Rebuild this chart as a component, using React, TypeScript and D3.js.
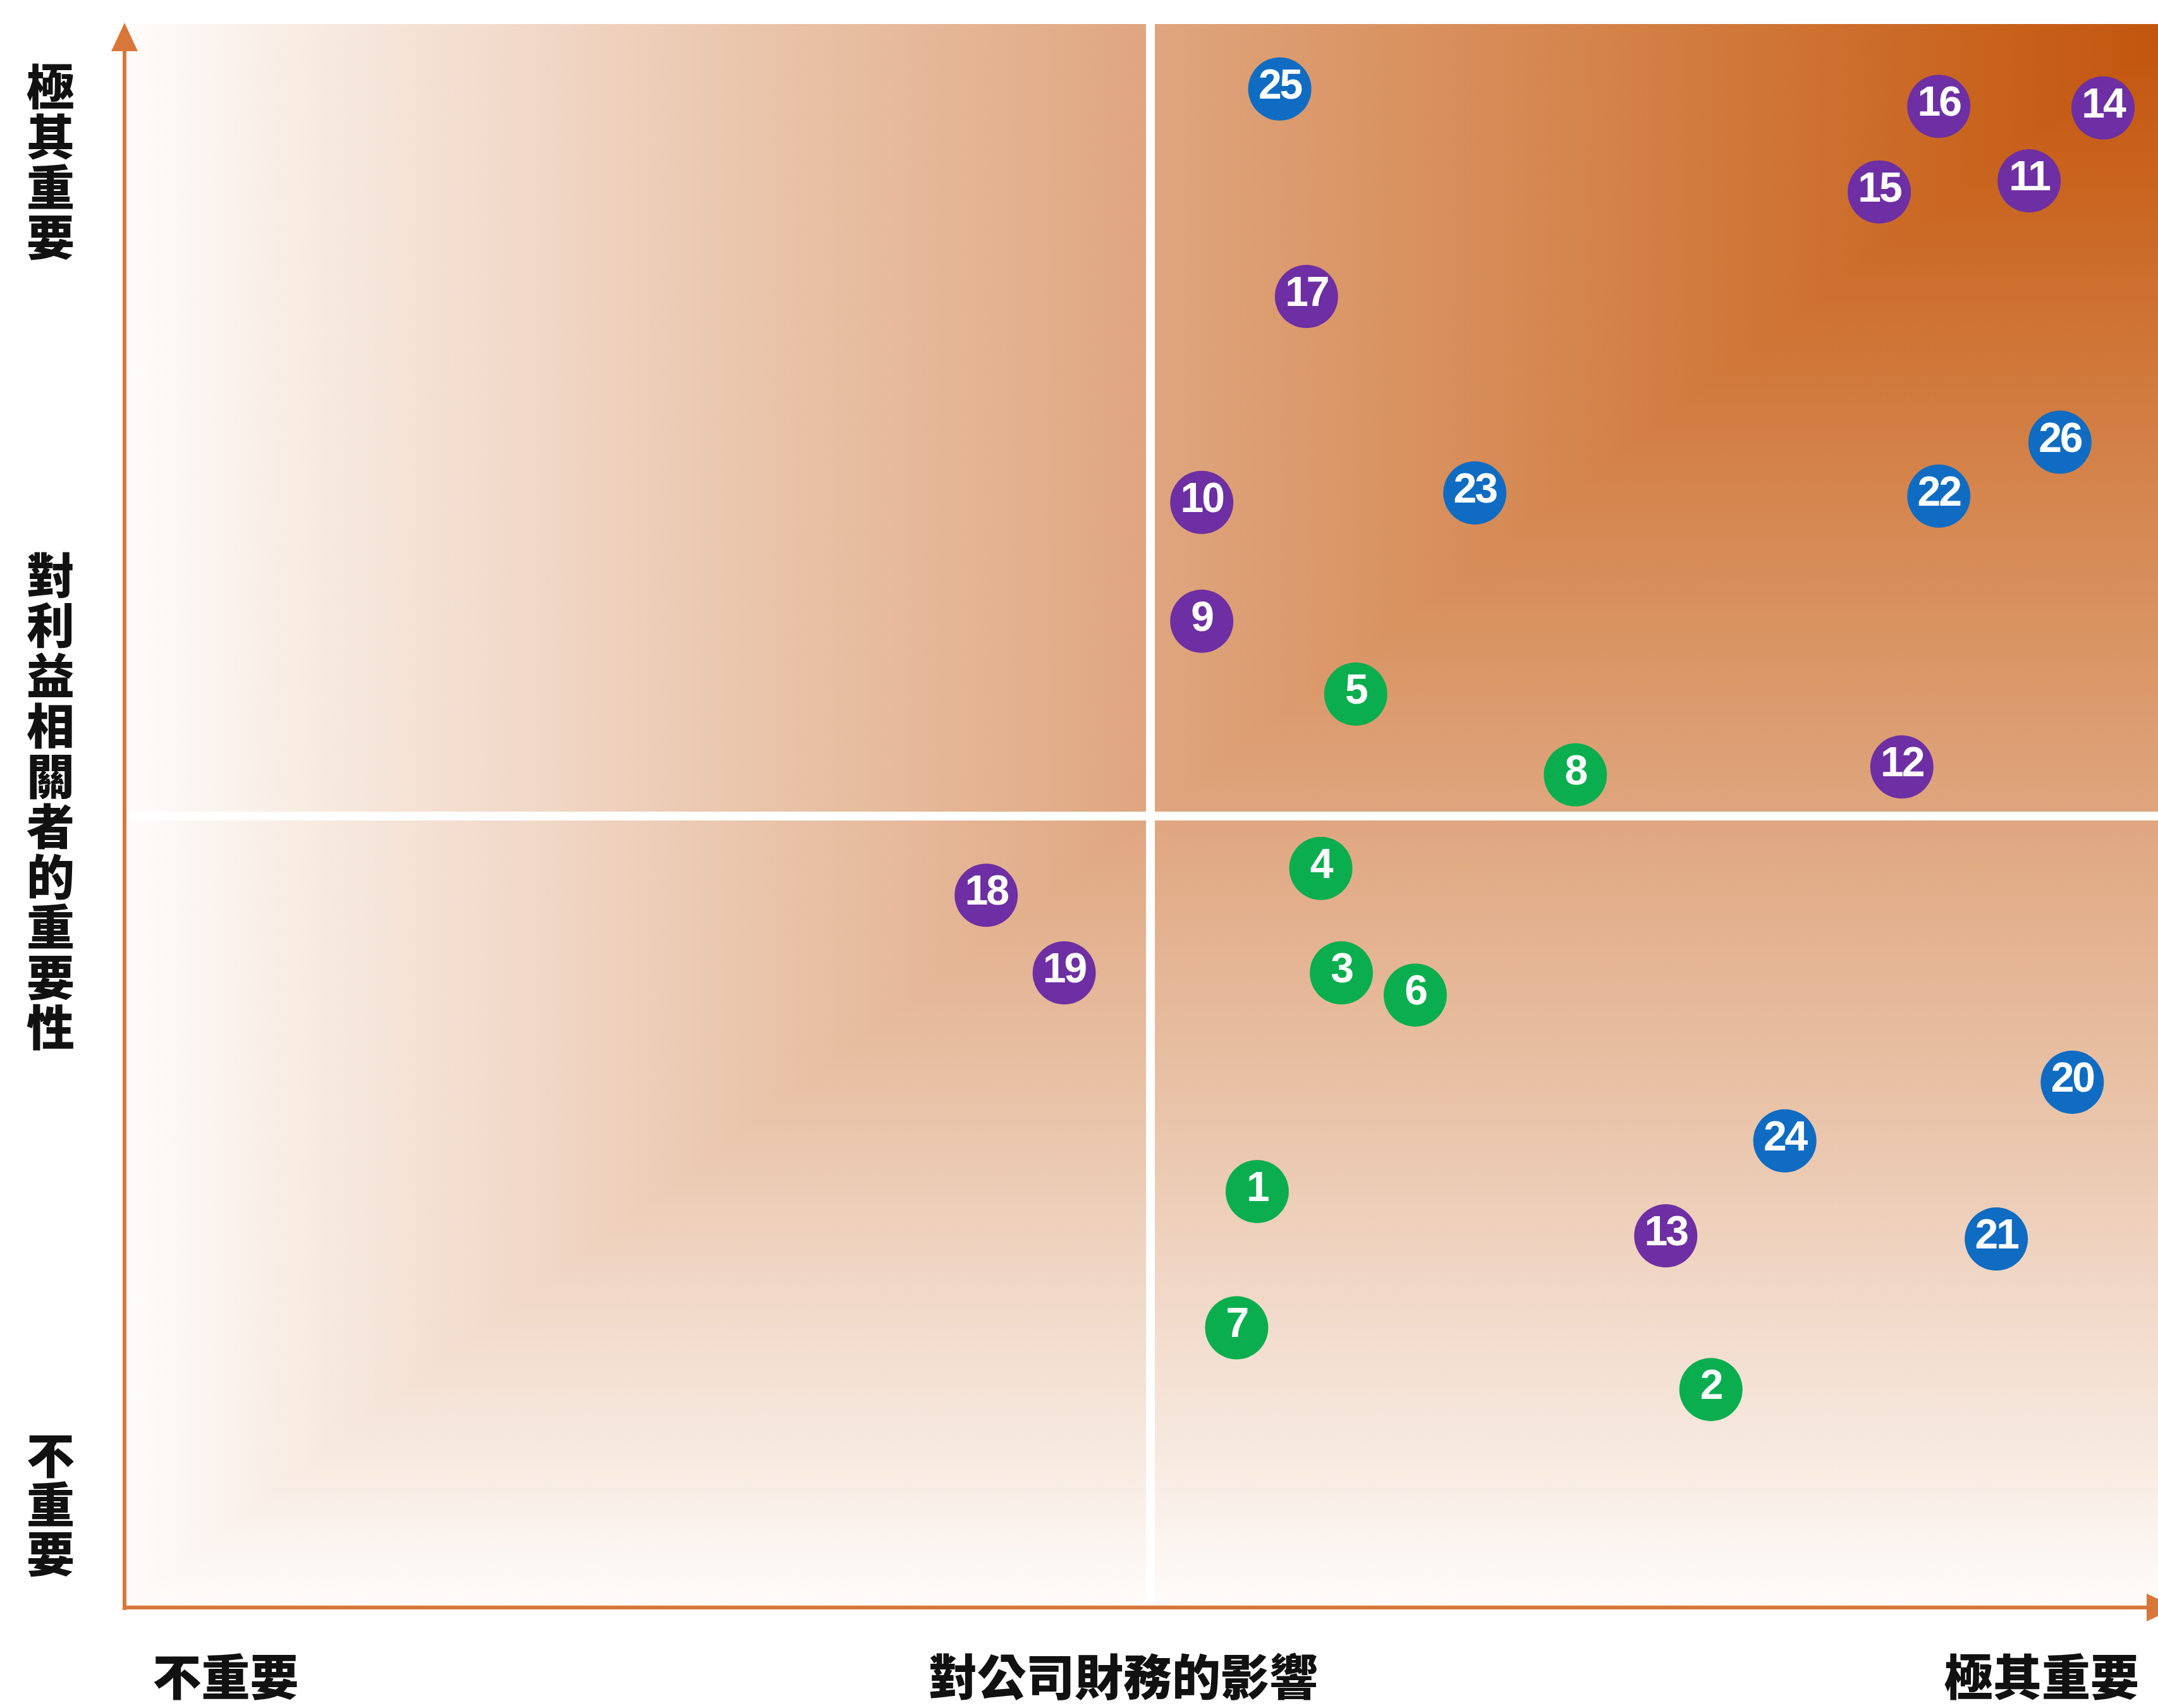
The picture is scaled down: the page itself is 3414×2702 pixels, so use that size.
import React from "react";
import * as d3 from "d3";

// ---- data ----
const ids = [1, 2, 3, 4, 5, 6, 7, 8, 9, 10, 11, 12, 13, 14, 15, 16, 17, 18, 19, 20, 21, 22, 23, 24, 25, 26];
// 對公司財務的影響 (0-100)
const financialImpact = [55.2, 77.3, 59.3, 58.3, 60.0, 62.9, 54.2, 70.7, 52.5, 52.5, 92.8, 86.6, 75.1, 96.4, 85.5, 88.4, 57.6, 42.0, 45.8, 94.9, 91.2, 88.4, 65.8, 80.9, 56.3, 94.3];
// 對利益相關者的重要性 (0-100)
const stakeholderImportance = [26.3, 13.8, 40.1, 46.7, 57.7, 38.7, 17.7, 52.6, 62.3, 69.8, 90.1, 53.1, 23.5, 94.7, 89.4, 94.8, 82.8, 45.0, 40.1, 33.2, 23.3, 70.2, 70.4, 29.5, 95.9, 73.6];
// topic group: 0 = green, 1 = purple, 2 = blue
const groups = [0, 0, 0, 0, 0, 0, 0, 0, 1, 1, 1, 1, 1, 1, 1, 1, 1, 1, 1, 2, 2, 2, 2, 2, 2, 2];
const groupColors = ["#0AAE4E", "#6D2FA3", "#0F6CC2"];

const yAxisTop = "極其重要";
const yAxisTitle = "對利益相關者的重要性";
const yAxisBottom = "不重要";
const xAxisLeft = "不重要";
const xAxisTitle = "對公司財務的影響";
const xAxisRight = "極其重要";

const gradStops: [number, string][] = [
  [0, "#c2540c"],
  [0.1, "#c9641f"],
  [0.2, "#cf7536"],
  [0.3, "#d5864f"],
  [0.4, "#da9666"],
  [0.5, "#dfa67f"],
  [0.6, "#e5b696"],
  [0.7, "#eac6ac"],
  [0.8, "#f1d8c7"],
  [0.9, "#f7e9df"],
  [1, "#fefcfb"],
];

const W = 3414;
const H = 2702;
const L = 196;
const R = 3444;
const T = 38;
const B = 2544;

export default function App() {
  const x = d3.scaleLinear().domain([0, 100]).range([L, R]);
  const y = d3.scaleLinear().domain([0, 100]).range([B, T]);
  const axisColor = "#D9773A";
  const cjk = "'Noto Sans CJK TC', 'Noto Sans CJK SC', sans-serif";
  const midX = x(50);
  const midY = y(50);

  const vText = (s: string, cx: number, top: number, spacing: number) => (
    <text x={cx} y={top} style={{ writingMode: "vertical-rl", textOrientation: "upright" } as any}
      fontFamily={cjk} fontWeight={900} fontSize={76} letterSpacing={spacing} fill="#111">{s}</text>
  );

  const hText = (s: string, cx: number) => (
    <text x={cx} y={2648} textAnchor="middle" dominantBaseline="central" fontFamily={cjk} fontWeight={900} fontSize={77} fill="#111">{s}</text>
  );

  return (
    <svg width={W} height={H} viewBox={`0 0 ${W} ${H}`} style={{ position: "absolute", left: 0, top: 0, display: "block", background: "#fff" }}>
      <defs>
        <linearGradient id="gv" gradientUnits="userSpaceOnUse" x1={0} y1={T} x2={0} y2={B}>
          {gradStops.map(([o, c]) => <stop key={o} offset={o} stopColor={c} />)}
        </linearGradient>
        <linearGradient id="gh" gradientUnits="userSpaceOnUse" x1={R} y1={0} x2={L} y2={0}>
          {gradStops.map(([o, c]) => <stop key={o} offset={o} stopColor={c} />)}
        </linearGradient>
      </defs>
      <rect x={0} y={0} width={W} height={H} fill="#fff" />
      {/* rectangular gradient from the top-right corner */}
      <rect x={L} y={T} width={R - L} height={B - T} fill="url(#gv)" />
      <polygon points={`${L},${T} ${R},${T} ${L},${B}`} fill="url(#gh)" />

      {/* quadrant lines */}
      <line x1={midX} x2={midX} y1={T} y2={B} stroke="#fff" strokeWidth={14} />
      <line x1={L} x2={W} y1={midY} y2={midY} stroke="#fff" strokeWidth={14} />

      {/* axes */}
      <line x1={L + 1} x2={L + 1} y1={B + 3} y2={78} stroke={axisColor} strokeWidth={6} />
      <polygon points={`${L + 1},36 ${L - 20},81 ${L + 22},81`} fill={axisColor} />
      <line x1={L - 2} x2={3400} y1={B - 1} y2={B - 1} stroke={axisColor} strokeWidth={6} />
      <polygon points={`3396,${B - 23} 3396,${B + 21} 3442,${B - 1}`} fill={axisColor} />

      {/* bubbles */}
      {ids.map((id, i) => (
        <g key={id}>
          <circle cx={x(financialImpact[i])} cy={y(stakeholderImportance[i])} r={50} fill={groupColors[groups[i]]} />
          <text x={x(financialImpact[i])} y={y(stakeholderImportance[i]) - 8} textAnchor="middle" dominantBaseline="central"
            fontFamily="'Liberation Sans', Arial, sans-serif" fontWeight={700} fontSize={66} letterSpacing={-3} fill="#fff">{id}</text>
        </g>
      ))}

      {/* y axis labels */}
      {vText(yAxisTop, 80, 99, 3.5)}
      {vText(yAxisTitle, 80, 872, 3.5)}
      {vText(yAxisBottom, 80, 2264, 2)}

      {/* x axis labels */}
      {hText(xAxisLeft, 357)}
      {hText(xAxisTitle, 1777)}
      {hText(xAxisRight, 3230)}
    </svg>
  );
}
